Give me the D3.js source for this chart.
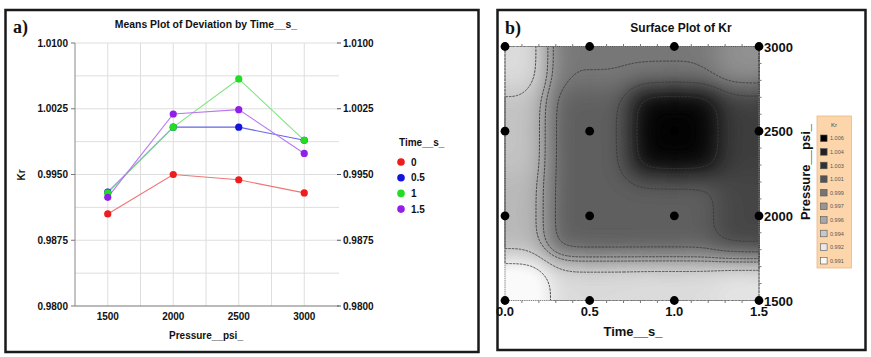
<!DOCTYPE html>
<html>
<head>
<meta charset="utf-8">
<script src="https://cdn.jsdelivr.net/npm/d3@7"></script>
<style>
  body { margin: 0; background: #fff; }
  svg { display: block; font-family: Arial, "Liberation Sans", sans-serif; }
</style>
</head>
<body>
<svg id="canvas" width="871" height="357"></svg>
<script>
// ---- data ----
const pressures = [1500, 2000, 2500, 3000];
const timeLevels = [0, 0.5, 1, 1.5];
const timeNames = ["0", "0.5", "1", "1.5"];
// Kr means per time level, one value per pressure
const krTime0 = [0.9905, 0.9950, 0.9944, 0.9929];
const krTime05 = [0.9930, 1.0004, 1.0004, 0.9989];
const krTime1 = [0.9929, 1.0004, 1.0059, 0.9989];
const krTime15 = [0.9924, 1.0019, 1.0024, 0.9974];
const krTicks = [0.9800, 0.9875, 0.9950, 1.0025, 1.0100];
const legendLevels = [1.006, 1.004, 1.003, 1.001, 0.999, 0.997, 0.996, 0.994, 0.992, 0.991];
const contourLevels = [0.992, 0.994, 0.996, 0.997, 0.999, 1.001, 1.003, 1.004];

const krSeries = [krTime0, krTime05, krTime1, krTime15];
const pointColors = ["#ee1c1c", "#1414dc", "#22dd22", "#9020e8"];
const lineColors = ["#f07575", "#6464e6", "#80e680", "#b878f0"];

const svg = d3.select("#canvas");
svg.append("rect").attr("width", 871).attr("height", 357).attr("fill", "#fff");

// panel frames
svg.append("rect").attr("x", 5.5).attr("y", 10).attr("width", 473).attr("height", 342)
  .attr("fill", "none").attr("stroke", "#1a1a1a").attr("stroke-width", 2.5);
svg.append("rect").attr("x", 497.5).attr("y", 10).attr("width", 368).attr("height", 340)
  .attr("fill", "none").attr("stroke", "#1a1a1a").attr("stroke-width", 2.5);

// ================= panel a: means plot =================
const a = svg.append("g");
const xA = d3.scaleLinear().domain([1250, 3250]).range([75, 337]);
const yA = d3.scaleLinear().domain([0.98, 1.01]).range([306, 43]);
const gridY = d3.range(0, 9).map(i => 0.98 + i * 0.00375);
const gridX = d3.range(1500, 3001, 250);

a.selectAll(".vgrid").data(gridX).join("line")
  .attr("x1", d => xA(d)).attr("x2", d => xA(d))
  .attr("y1", yA(1.01)).attr("y2", yA(0.98))
  .attr("stroke", "#dedede").attr("stroke-width", 1);
a.selectAll(".hgrid").data(gridY).join("line")
  .attr("x1", xA(1250)).attr("x2", xA(3250) + 2)
  .attr("y1", d => yA(d)).attr("y2", d => yA(d))
  .attr("stroke", d => d === 0.98 ? "#777" : "#dedede").attr("stroke-width", 1);

// left axis
a.append("line").attr("x1", 75).attr("x2", 75).attr("y1", 43).attr("y2", 306)
  .attr("stroke", "#888");
a.selectAll(".ltick").data(krTicks).join("line")
  .attr("x1", 71).attr("x2", 75).attr("y1", d => yA(d)).attr("y2", d => yA(d))
  .attr("stroke", "#777");
a.selectAll(".llab").data(krTicks).join("text")
  .attr("x", 68).attr("y", d => yA(d) + 3.5).attr("text-anchor", "end")
  .attr("font-size", 10).attr("font-weight", "bold").attr("fill", "#111")
  .text(d => d.toFixed(4));
// right axis (ticks only)
a.selectAll(".rtick").data(krTicks).join("line")
  .attr("x1", 337).attr("x2", 341).attr("y1", d => yA(d)).attr("y2", d => yA(d))
  .attr("stroke", "#555");
a.selectAll(".rlab").data(krTicks).join("text")
  .attr("x", 343).attr("y", d => yA(d) + 3.5)
  .attr("font-size", 10).attr("font-weight", "bold").attr("fill", "#111")
  .text(d => d.toFixed(4));
// bottom ticks
a.selectAll(".xlab").data(pressures).join("text")
  .attr("x", d => xA(d)).attr("y", 320).attr("text-anchor", "middle")
  .attr("font-size", 10).attr("font-weight", "bold").attr("fill", "#111")
  .text(d => d);

a.append("text").attr("x", 206).attr("y", 28).attr("text-anchor", "middle")
  .attr("font-size", 10.4).attr("font-weight", "bold").attr("fill", "#111")
  .text("Means Plot of Deviation by Time__s_");
a.append("text").attr("x", 206).attr("y", 339).attr("text-anchor", "middle")
  .attr("font-size", 10).attr("font-weight", "bold").attr("fill", "#111")
  .text("Pressure__psi_");
a.append("text").attr("transform", "translate(25,175) rotate(-90)").attr("text-anchor", "middle")
  .attr("font-size", 10).attr("font-weight", "bold").attr("fill", "#111")
  .text("Kr");
a.append("text").attr("x", 13).attr("y", 33)
  .attr("font-family", "'Liberation Serif', 'DejaVu Serif', serif")
  .attr("font-size", 18).attr("font-weight", "bold").attr("fill", "#111")
  .text("a)");

const line = d3.line().x((d, i) => xA(pressures[i])).y(d => yA(d));
krSeries.forEach((vals, k) => {
  a.append("path").attr("d", line(vals)).attr("fill", "none")
    .attr("stroke", lineColors[k]).attr("stroke-width", 1.1);
});
krSeries.forEach((vals, k) => {
  a.selectAll(null).data(vals).join("circle")
    .attr("cx", (d, i) => xA(pressures[i])).attr("cy", d => yA(d)).attr("r", 3.6)
    .attr("fill", pointColors[k]);
});

// legend
a.append("text").attr("x", 399).attr("y", 146)
  .attr("font-size", 10).attr("font-weight", "bold").attr("fill", "#111").text("Time__s_");
timeNames.forEach((t, k) => {
  const y = 162 + k * 15.7;
  a.append("circle").attr("cx", 401).attr("cy", y).attr("r", 3.8).attr("fill", pointColors[k]);
  a.append("text").attr("x", 411).attr("y", y + 3.5)
    .attr("font-size", 10).attr("font-weight", "bold").attr("fill", "#111").text(t);
});

// ================= panel b: surface plot =================
const b = svg.append("g");
const xB = d3.scaleLinear().domain([0, 1.5]).range([505, 759]);
const yB = d3.scaleLinear().domain([1500, 3000]).range([300.5, 46.5]);
const gray = d3.scaleLinear().domain([0.991, 1.006]).range([250, 0]).clamp(true);
const grayColor = v => { const g = Math.round(gray(v)); return `rgb(${g},${g},${g})`; };

// smooth steps between the measured grid nodes
const step = u => { const k = 2.7; const p = Math.pow(u, k); return p / (p + Math.pow(1 - u, k)); };
function krAt(t, p) {
  let i = Math.min(2, Math.max(0, Math.floor(t / 0.5)));
  let j = Math.min(2, Math.max(0, Math.floor((p - 1500) / 500)));
  const u = step(Math.min(1, Math.max(0, (t - timeLevels[i]) / 0.5)));
  const v = step(Math.min(1, Math.max(0, (p - pressures[j]) / 500)));
  const v00 = krSeries[i][j], v10 = krSeries[i + 1][j];
  const v01 = krSeries[i][j + 1], v11 = krSeries[i + 1][j + 1];
  return (v00 * (1 - u) + v10 * u) * (1 - v) + (v01 * (1 - u) + v11 * u) * v;
}

const nx = 254, ny = 254;
const x0 = xB.range()[0], y0 = yB.range()[1];
const dx = (xB.range()[1] - x0) / nx, dy = (yB.range()[0] - y0) / ny;
const values = new Array(nx * ny);
for (let j = 0; j < ny; j++) {
  for (let i = 0; i < nx; i++) {
    values[j * nx + i] = krAt(xB.invert(x0 + (i + 0.5) * dx), yB.invert(y0 + (j + 0.5) * dy));
  }
}
const proj = d3.geoPath(d3.geoTransform({
  point(px, py) { this.stream.point(x0 + px * dx, y0 + py * dy); }
}));
const fillLevels = d3.range(0.9900, 1.0065, 0.00012);
b.append("rect").attr("x", x0).attr("y", y0).attr("width", nx * dx).attr("height", ny * dy)
  .attr("fill", grayColor(d3.min(values)));
b.selectAll(".band").data(d3.contours().size([nx, ny]).thresholds(fillLevels)(values)).join("path")
  .attr("d", proj).attr("fill", d => grayColor(d.value)).attr("stroke", d => grayColor(d.value))
  .attr("stroke-width", 0.3);
b.selectAll(".iso").data(d3.contours().size([nx, ny]).thresholds(contourLevels)(values)).join("path")
  .attr("d", proj).attr("fill", "none").attr("stroke", "#3a3a3a")
  .attr("stroke-width", 0.9).attr("stroke-dasharray", "2.5,1");

// plot frame with minor ticks
b.append("rect").attr("x", x0).attr("y", y0).attr("width", nx * dx).attr("height", ny * dy)
  .attr("fill", "none").attr("stroke", "#888").attr("stroke-width", 1).attr("stroke-dasharray", "1.5,0.7");
const minorT = d3.range(0, 1.501, 0.1);
b.selectAll(".tt").data(minorT).join("line")
  .attr("x1", d => xB(d)).attr("x2", d => xB(d)).attr("y1", y0 - 2.5).attr("y2", y0)
  .attr("stroke", "#777");
b.selectAll(".bt").data(minorT).join("line")
  .attr("x1", d => xB(d)).attr("x2", d => xB(d)).attr("y1", yB(1500)).attr("y2", yB(1500) + 2.5)
  .attr("stroke", "#777");
b.selectAll(".rt").data(d3.range(1500, 3001, 100)).join("line")
  .attr("x1", 759).attr("x2", 761.5).attr("y1", d => yB(d)).attr("y2", d => yB(d))
  .attr("stroke", "#777");

// measured nodes
timeLevels.forEach(t => {
  b.selectAll(null).data(pressures).join("circle")
    .attr("cx", xB(t)).attr("cy", d => yB(d)).attr("r", 4.4).attr("fill", "#000");
});

b.selectAll(".bx").data(timeLevels).join("text")
  .attr("x", d => xB(d)).attr("y", 316).attr("text-anchor", "middle")
  .attr("font-size", 13).attr("font-weight", "bold").attr("fill", "#111")
  .text(d => d.toFixed(1));
b.selectAll(".by").data(pressures).join("text")
  .attr("x", 764).attr("y", d => yB(d) + 5)
  .attr("font-size", 13).attr("font-weight", "bold").attr("fill", "#111")
  .text(d => d);
b.append("text").attr("x", 681).attr("y", 32).attr("text-anchor", "middle")
  .attr("font-size", 12).attr("font-weight", "bold").attr("fill", "#111")
  .text("Surface Plot of Kr");
b.append("text").attr("x", 633).attr("y", 336).attr("text-anchor", "middle")
  .attr("font-size", 13).attr("font-weight", "bold").attr("fill", "#111")
  .text("Time__s_");
b.append("text").attr("transform", "translate(810,172) rotate(-90)").attr("text-anchor", "middle")
  .attr("font-size", 13).attr("font-weight", "bold").attr("fill", "#111")
  .text("Pressure__psi_");
b.append("text").attr("x", 505).attr("y", 34)
  .attr("font-family", "'Liberation Serif', 'DejaVu Serif', serif")
  .attr("font-size", 18).attr("font-weight", "bold").attr("fill", "#111")
  .text("b)");

// colour legend
b.append("rect").attr("x", 817).attr("y", 116).attr("width", 34.5).attr("height", 152)
  .attr("fill", "#fcd6aa").attr("stroke", "#e8b888").attr("stroke-width", 0.8);
b.append("text").attr("x", 834).attr("y", 127).attr("text-anchor", "middle")
  .attr("font-size", 6).attr("fill", "#444").text("Kr");
legendLevels.forEach((lv, k) => {
  const y = 138.3 + k * 13.6;
  b.append("rect").attr("x", 820.5).attr("y", y - 3.3).attr("width", 6.6).attr("height", 6.6)
    .attr("fill", grayColor(lv)).attr("stroke", "#555").attr("stroke-width", 0.6);
  b.append("text").attr("x", 830).attr("y", y + 2)
    .attr("font-size", 5.5).attr("fill", "#555").text(lv.toFixed(3));
});
</script>
</body>
</html>
